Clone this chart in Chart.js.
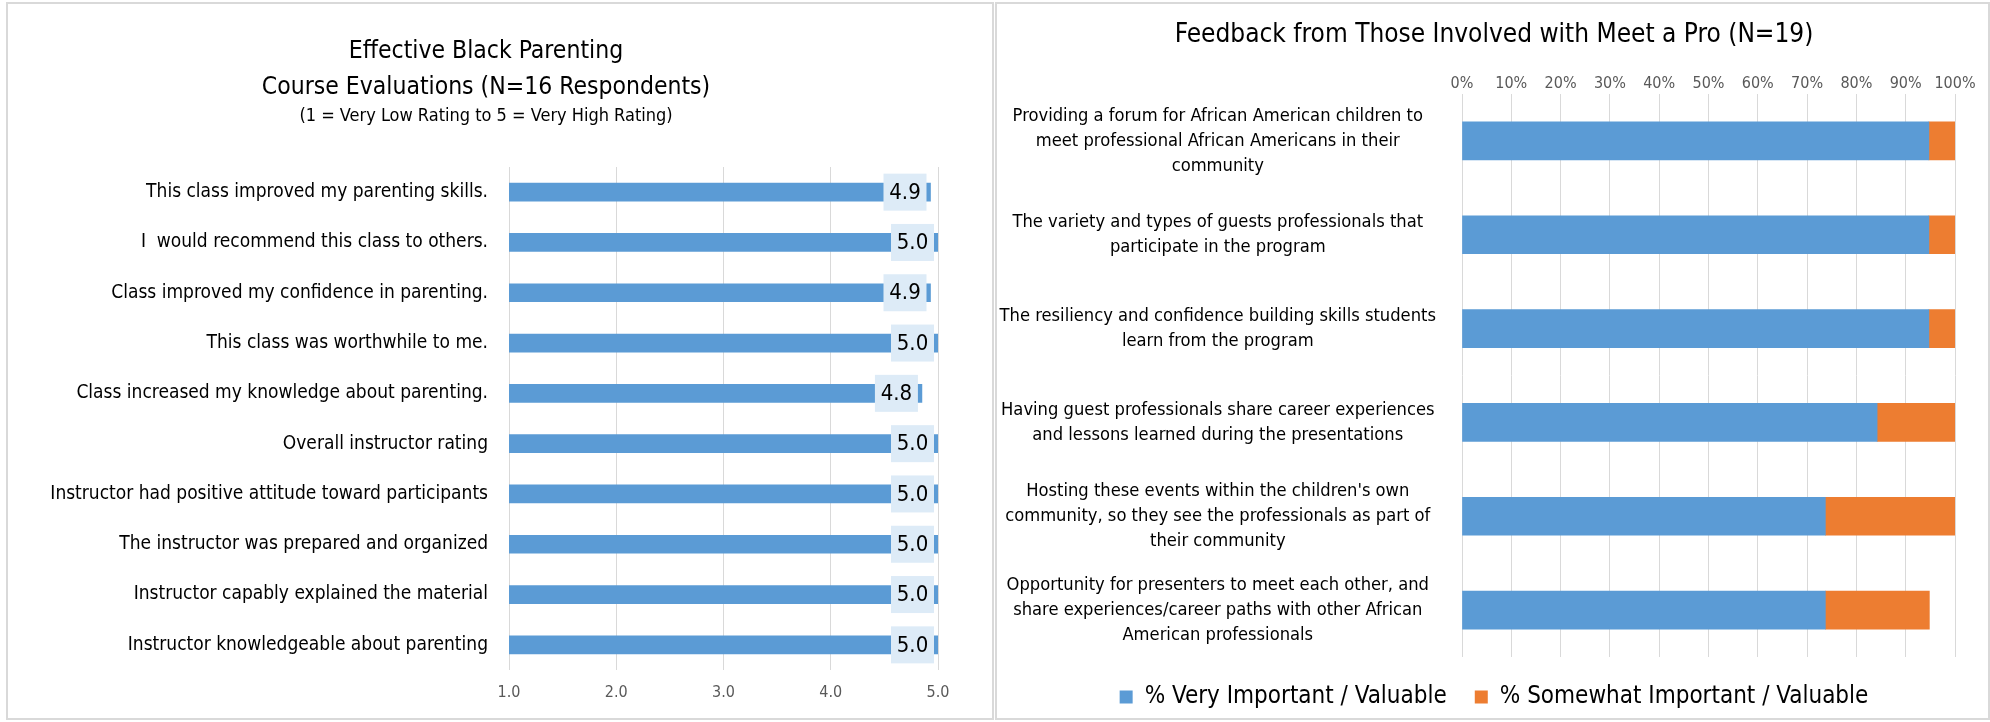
<!DOCTYPE html>
<html><head><meta charset="utf-8">
<script src="https://cdn.jsdelivr.net/npm/chart.js@4.4.1/dist/chart.umd.min.js"></script>
<style>
html,body{margin:0;padding:0;background:#fff;}
body{width:1990px;height:722px;position:relative;overflow:hidden;}
.panel{position:absolute;border:2px solid #D9D9D9;box-sizing:border-box;}
.wrap{position:absolute;top:0;height:722px;}
</style></head><body>
<div class="panel" style="left:6px;top:2px;width:988px;height:718px"></div>
<div class="panel" style="left:995px;top:2px;width:995px;height:718px"></div>
<div class="wrap" style="left:8px;width:956px"><canvas id="c1" width="956" height="722"></canvas></div>
<div class="wrap" style="left:998px;width:992px"><canvas id="c2" width="992" height="722"></canvas></div>
<script>
// ---------- data: left chart ----------
const evalTitle = ['Effective Black Parenting', 'Course Evaluations (N=16 Respondents)'];
const evalSubtitle = '(1 = Very Low Rating to 5 = Very High Rating)';
const evalCategories = [
  'This class improved my parenting skills.',
  'I  would recommend this class to others.',
  'Class improved my confidence in parenting.',
  'This class was worthwhile to me.',
  'Class increased my knowledge about parenting.',
  'Overall instructor rating',
  'Instructor had positive attitude toward participants',
  'The instructor was prepared and organized',
  'Instructor capably explained the material',
  'Instructor knowledgeable about parenting'
];
const evalScores = [4.93, 5.0, 4.93, 5.0, 4.85, 5.0, 5.0, 5.0, 5.0, 5.0];
const evalTickMin = 1, evalTickMax = 5, evalTickStep = 1;

// ---------- data: right chart ----------
const proTitle = 'Feedback from Those Involved with Meet a Pro (N=19)';
const proCategories = [
  ['Providing a forum for African American children to', 'meet professional African Americans in their', 'community'],
  ['The variety and types of guests professionals that', 'participate in the program'],
  ['The resiliency and confidence building skills students', 'learn from the program'],
  ['Having guest professionals share career experiences', 'and lessons learned during the presentations'],
  ["Hosting these events within the children's own", 'community, so they see the professionals as part of', 'their community'],
  ['Opportunity for presenters to meet each other, and', 'share experiences/career paths with other African', 'American professionals']
];
const proSeriesNames = ['% Very Important / Valuable', '% Somewhat Important / Valuable'];
const proVeryImportant = [94.7, 94.7, 94.7, 84.2, 73.7, 73.7];
const proSomewhatImportant = [5.3, 5.3, 5.3, 15.8, 26.3, 21.1];
const proTickMin = 0, proTickMax = 100, proTickStep = 10;

// ---------- styling ----------
const FONT = "'DejaVu Sans Condensed', 'Liberation Sans Narrow', 'Liberation Sans', sans-serif";
const BLUE = '#5B9BD5', ORANGE = '#ED7D31', GRID = '#D9D9D9', TICK = '#595959';
Chart.defaults.font.family = FONT;
Chart.defaults.color = '#000';

const valueBoxPlugin = {
  id: 'valueBox',
  afterDatasetsDraw(chart) {
    const ctx = chart.ctx;
    const meta = chart.getDatasetMeta(0);
    const data = chart.data.datasets[0].data;
    ctx.save();
    ctx.font = '22px ' + FONT;
    ctx.textAlign = 'center';
    ctx.textBaseline = 'middle';
    meta.data.forEach((bar, i) => {
      const w = 43, h = 37, right = bar.x - 4;
      ctx.fillStyle = '#DDEBF7';
      ctx.fillRect(right - w, bar.y - h / 2, w, h);
      ctx.fillStyle = '#000';
      ctx.fillText(Number(data[i]).toFixed(1), right - w / 2, bar.y + 1);
    });
    ctx.restore();
  }
};

new Chart(document.getElementById('c1'), {
  type: 'bar',
  data: {
    labels: evalCategories,
    datasets: [{ data: evalScores, backgroundColor: BLUE, barThickness: 18, borderWidth: 0 }]
  },
  options: {
    responsive: false, animation: false, indexAxis: 'y',
    layout: { padding: { left: 26, right: 26, top: 0, bottom: 0 } },
    plugins: {
      legend: { display: false }, tooltip: { enabled: false },
      title: { display: true, text: evalTitle, color: '#000',
        font: { size: 24.5, weight: 'normal', lineHeight: '36px' }, padding: { top: 34, bottom: 0 } },
      subtitle: { display: true, text: evalSubtitle, color: '#000',
        font: { size: 18, weight: 'normal', lineHeight: '20px' }, padding: { top: 0, bottom: 41 } }
    },
    scales: {
      x: {
        min: evalTickMin, max: evalTickMax,
        grid: { color: GRID, drawTicks: false }, border: { display: false },
        ticks: { stepSize: evalTickStep, color: TICK, font: { size: 16 }, padding: 13,
          maxRotation: 0, minRotation: 0,
          callback: v => Number(v).toFixed(1) },
        afterFit: s => { s.height = 52; }
      },
      y: {
        grid: { display: false }, border: { display: false },
        ticks: { color: '#000', font: { size: 19 }, padding: 13, autoSkip: false },
        afterFit: s => { s.width = 475; }
      }
    }
  },
  plugins: [valueBoxPlugin]
});

new Chart(document.getElementById('c2'), {
  type: 'bar',
  data: {
    labels: proCategories,
    datasets: [
      { label: proSeriesNames[0], data: proVeryImportant, backgroundColor: BLUE, barThickness: 38, borderWidth: 0 },
      { label: proSeriesNames[1], data: proSomewhatImportant, backgroundColor: ORANGE, barThickness: 38, borderWidth: 0 }
    ]
  },
  options: {
    responsive: false, animation: false, indexAxis: 'y',
    layout: { padding: { left: 0, right: 0, top: 0, bottom: 3 } },
    plugins: {
      tooltip: { enabled: false },
      title: { display: true, text: proTitle, color: '#000',
        font: { size: 26, weight: 'normal', lineHeight: '32px' }, padding: { top: 19, bottom: 0 } },
      legend: { display: true, position: 'bottom',
        labels: { color: '#000', font: { size: 24 }, boxWidth: 13, boxHeight: 13, padding: 28 } }
    },
    scales: {
      x: {
        position: 'top', stacked: true, min: proTickMin, max: proTickMax,
        grid: { color: GRID, drawTicks: false }, border: { display: false },
        ticks: { stepSize: proTickStep, color: TICK, font: { size: 16 }, padding: 1,
          maxRotation: 0, minRotation: 0, autoSkip: false,
          callback: v => v + '%' },
        afterFit: s => { s.height = 43; }
      },
      y: {
        stacked: true,
        grid: { display: false }, border: { display: false },
        ticks: { color: '#000', font: { size: 18.2, lineHeight: '25px' }, padding: 18,
          crossAlign: 'center', autoSkip: false },
        afterFit: s => { s.width = 464; }
      },
      yRightGap: {
        type: 'category', axis: 'y', position: 'right', display: true,
        grid: { display: false }, border: { display: false }, ticks: { display: false },
        afterFit: s => { s.width = 35; }
      }
    }
  }
});
</script>
</body></html>
